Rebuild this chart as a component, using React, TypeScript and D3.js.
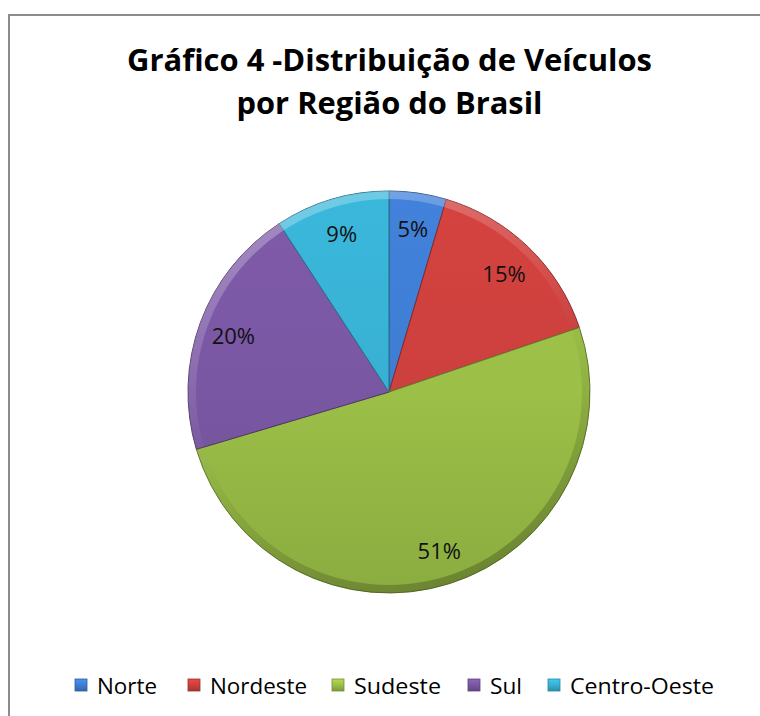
import React from "react";
import * as d3 from "d3";

const categories = ["Norte", "Nordeste", "Sudeste", "Sul", "Centro-Oeste"];
const values = [4.6, 15.2, 50.6, 20.4, 9.2];
const colors = ["#3f7dd3", "#cc403d", "#9bbf47", "#7a57a3", "#38b0d3"];
const titleLines = ["Gráfico 4 -Distribuição de Veículos", "por Região do Brasil"];

const W = 760;
const H = 716;
const cx = 389;
const cy = 392;
const R = 201;
const FONT = "'Open Sans', 'Noto Sans', sans-serif";

export default function App() {
  const pie = d3.pie<number>().sort(null).value((d) => d);
  const arcs = pie(values);
  const arc = d3.arc<d3.PieArcDatum<number>>().innerRadius(0).outerRadius(R);
  const labelArc = d3
    .arc<d3.PieArcDatum<number>>()
    .innerRadius(R * 0.825)
    .outerRadius(R * 0.825);
  const rim = d3.arc()({
    innerRadius: R - 8,
    outerRadius: R,
    startAngle: 0,
    endAngle: Math.PI * 2,
  } as any) as string;

  const legendMarkerX = [75, 188, 332, 468, 548];
  const legendTextW = [60, 97, 87, 32, 144];

  return (
    <svg
      width={W}
      height={H}
      style={{ position: "absolute", left: 0, top: 0, background: "#fff" }}
    >
      <defs>
        {colors.map((c, i) => {
          const base = d3.color(c)!;
          return (
            <linearGradient
              key={i}
              id={`g${i}`}
              gradientUnits="userSpaceOnUse"
              x1={0}
              y1={-R}
              x2={0}
              y2={R}
            >
              <stop offset="0" stopColor={base.brighter(0.12).toString()} />
              <stop offset="0.5" stopColor={c} />
              <stop offset="1" stopColor={base.darker(0.3).toString()} />
            </linearGradient>
          );
        })}
        {colors.map((c, i) => {
          const base = d3.color(c)!;
          return (
            <linearGradient key={"l" + i} id={`lg${i}`} x1="0" y1="0" x2="0" y2="1">
              <stop offset="0" stopColor={base.brighter(0.4).toString()} />
              <stop offset="0.5" stopColor={c} />
              <stop offset="1" stopColor={base.darker(0.6).toString()} />
            </linearGradient>
          );
        })}
        <linearGradient
          id="rimg"
          gradientUnits="userSpaceOnUse"
          x1={-R * 0.4}
          y1={-R}
          x2={R * 0.4}
          y2={R}
        >
          <stop offset="0" stopColor="#fff" stopOpacity="0.3" />
          <stop offset="0.4" stopColor="#fff" stopOpacity="0.06" />
          <stop offset="0.6" stopColor="#000" stopOpacity="0.05" />
          <stop offset="1" stopColor="#000" stopOpacity="0.25" />
        </linearGradient>
      </defs>

      <rect x={9} y={15} width={W + 20} height={H + 20} fill="#fff" stroke="#8c8c8c" strokeWidth={2} />

      {titleLines.map((t, i) => (
        <text
          key={i}
          x={389.5}
          y={i === 0 ? 71 : 114}
          textAnchor="middle"
          fontFamily={FONT}
          fontWeight="bold"
          fontSize={30}
          fill="#000"
          textLength={i === 0 ? 525 : 306}
          lengthAdjust="spacingAndGlyphs"
        >
          {t}
        </text>
      ))}

      <g transform={`translate(${cx},${cy})`}>
        {arcs.map((a, i) => (
          <path
            key={i}
            d={arc(a) as string}
            fill={`url(#g${i})`}
            stroke={d3.color(colors[i])!.darker(1.2).toString()}
            strokeWidth={1}
            strokeLinejoin="round"
          />
        ))}
        <path d={rim} fill="url(#rimg)" />
        {arcs.map((a, i) => {
          const [lx, ly] = labelArc.centroid(a);
          return (
            <text
              key={"t" + i}
              x={lx}
              y={ly}
              textAnchor="middle"
              dominantBaseline="central"
              fontFamily={FONT}
              fontSize={22}
              fill="#111"
            >
              {`${Math.round(values[i])}%`}
            </text>
          );
        })}
      </g>

      <g>
        {categories.map((c, i) => (
          <g key={c}>
            <rect
              x={legendMarkerX[i]}
              y={679}
              width={12}
              height={12}
              fill={`url(#lg${i})`}
              stroke={d3.color(colors[i])!.darker(0.8).toString()}
              strokeWidth={0.8}
            />
            <text
              x={legendMarkerX[i] + 22}
              y={694}
              fontFamily={FONT}
              fontSize={21}
              fill="#000"
              textLength={legendTextW[i]}
              lengthAdjust="spacingAndGlyphs"
            >
              {c}
            </text>
          </g>
        ))}
      </g>
    </svg>
  );
}
